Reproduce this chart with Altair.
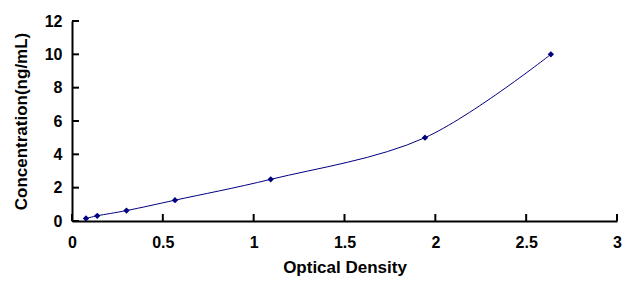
import altair as alt
import pandas as pd

od = [0.077, 0.139, 0.30, 0.567, 1.094, 1.943, 2.636]
conc = [0.156, 0.312, 0.625, 1.25, 2.5, 5, 10]
x_ticks = [0, 0.5, 1, 1.5, 2, 2.5, 3]
y_ticks = [0, 2, 4, 6, 8, 10, 12]

df = pd.DataFrame({"od": od, "conc": conc})
xt = pd.DataFrame({"v": x_ticks})
yt = pd.DataFrame({"v": y_ticks})

NAVY = "#000080"
FONT = "Liberation Sans"

xscale = alt.Scale(domain=[0, 3], nice=False, zero=False)
yscale = alt.Scale(domain=[0, 12], nice=False, zero=False)

common = dict(grid=False, tickSize=0, domainColor="black", domainWidth=2,
              labelOverlap=False, labelFlush=False,
              labelFont=FONT, labelFontSize=16, labelFontWeight="bold", labelColor="black",
              titleFont=FONT, titleFontSize=17, titleFontWeight="bold", titleColor="black")

xaxis = alt.Axis(values=x_ticks, format="~g", title="Optical Density",
                 labelPadding=13, titlePadding=9, **common)
yaxis = alt.Axis(values=y_ticks, format="~g", title="Concentration(ng/mL)",
                 labelPadding=10, titlePadding=14, **common)

line = alt.Chart(df).mark_line(color=NAVY, strokeWidth=1, interpolate="catmull-rom").encode(
    x=alt.X("od:Q", scale=xscale, axis=xaxis),
    y=alt.Y("conc:Q", scale=yscale, axis=yaxis),
)
pts = alt.Chart(df).mark_point(shape="diamond", filled=True, color=NAVY, size=40, opacity=1).encode(
    x=alt.X("od:Q", scale=xscale, axis=xaxis),
    y=alt.Y("conc:Q", scale=yscale, axis=yaxis),
)
xtick = alt.Chart(xt).mark_rule(color="black", strokeWidth=2).encode(
    x=alt.X("v:Q", scale=xscale, axis=xaxis),
    y=alt.value(200), y2=alt.value(193),
)
ytick = alt.Chart(yt).mark_rule(color="black", strokeWidth=2).encode(
    y=alt.Y("v:Q", scale=yscale, axis=yaxis),
    x=alt.value(0), x2=alt.value(7),
)

chart = alt.layer(line, pts, xtick, ytick).properties(
    width=545, height=200,
    autosize=alt.AutoSizeParams(type="none"),
    padding={"left": 72, "top": 21, "right": 13, "bottom": 62},
    background="white",
).configure_view(stroke=None)

chart.save("out.html", embed_options={"renderer": "svg", "actions": False})
